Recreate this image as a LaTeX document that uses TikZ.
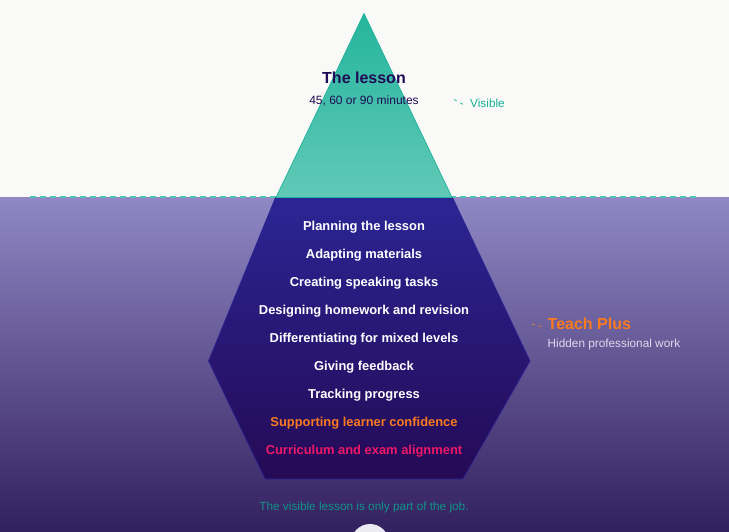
\documentclass[tikz,border=0pt]{standalone}
\usepackage{fontspec}
\setmainfont{Liberation Sans}
\definecolor{sky}{HTML}{F9F9F7}
\definecolor{seatop}{HTML}{8F88C4}
\definecolor{seabot}{HTML}{33205E}
\definecolor{teal1}{HTML}{25B59D}
\definecolor{teal2}{HTML}{61C9B7}
\definecolor{dashc}{HTML}{4FC4B0}
\definecolor{deep1}{HTML}{2B2594}
\definecolor{deep2}{HTML}{250A55}
\definecolor{ink}{HTML}{1F0A55}
\definecolor{tealtxt}{HTML}{14B096}
\definecolor{tealdim}{HTML}{0F9488}
\definecolor{orng}{HTML}{F97A1F}
\definecolor{pinkr}{HTML}{EE1868}
\definecolor{hid}{HTML}{DDD9EC}
\definecolor{moon}{HTML}{ECEAF3}
\tikzset{
  x=1pt,y=-1pt,
  item/.style={inner sep=0pt,font=\fontsize{12.9}{14}\selectfont\bfseries,text=white,anchor=center},
  leader/.style={line width=0.7pt,dash pattern=on 3pt off 4pt},
}
\begin{document}
\begin{tikzpicture}
\useasboundingbox (0,0) rectangle (729,532);
\begin{scope}
\clip (0,0) rectangle (729,532);
\fill[sky] (0,0) rectangle (729,198);
\shade[top color=seatop,bottom color=seabot] (0,197.5) rectangle (729,532);
\draw[dashc,line width=1.4pt,dash pattern=on 6pt off 4pt] (30,197.2) -- (698,197.2);
\shade[top color=deep1,bottom color=deep2,draw=deep1,line width=0.7pt]
  (275.5,197.5) -- (452.5,197.5) -- (530,361) -- (463,479) -- (265,479) -- (208.5,361) -- cycle;
\shade[top color=teal1,bottom color=teal2,draw=teal1,line width=0.8pt]
  (364,13.5) -- (452,197.5) -- (276,197.5) -- cycle;
\fill[moon] (370,543) circle (19);
\end{scope}
\node[inner sep=0pt,font=\fontsize{16}{18}\selectfont\bfseries,text=ink] (title) at (364,78) {The lesson};
\node[inner sep=0pt,font=\fontsize{12}{13}\selectfont,text=ink] (dur) at (364,100.5) {45, 60 or 90 minutes};
\node[inner sep=0pt,anchor=west,font=\fontsize{11.8}{14}\selectfont,text=tealtxt] (vis) at (470,103.5) {Visible};
\coordinate (visA) at (454,99.5);
\coordinate (visB) at (464,105);
\draw[leader,tealtxt] (visA) -- (visB);
\node[item] (i1) at (364,227.2) {Planning the lesson};
\node[item] (i2) at (364,255.2) {Adapting materials};
\node[item] (i3) at (364,283.2) {Creating speaking tasks};
\node[item] (i4) at (364,311.2) {Designing homework and revision};
\node[item] (i5) at (364,339.2) {Differentiating for mixed levels};
\node[item] (i6) at (364,367.2) {Giving feedback};
\node[item] (i7) at (364,395.2) {Tracking progress};
\node[item,text=orng] (i8) at (364,423.2) {Supporting learner confidence};
\node[item,text=pinkr] (i9) at (364,451.2) {Curriculum and exam alignment};
\node[inner sep=0pt,anchor=west,font=\fontsize{16}{18}\selectfont\bfseries,text=orng] (tp) at (547.5,323.5) {Teach Plus};
\node[inner sep=0pt,anchor=west,font=\fontsize{11.8}{14}\selectfont,text=hid] (hw) at (547.5,344.5) {Hidden professional work};
\coordinate (tpA) at (532,324);
\coordinate (tpB) at (543,327);
\draw[leader,orng] (tpA) -- (tpB);
\node[inner sep=0pt,font=\fontsize{11.8}{14}\selectfont,text=tealdim] (foot) at (364,507.2) {The visible lesson is only part of the job.};
\end{tikzpicture}
\end{document}
